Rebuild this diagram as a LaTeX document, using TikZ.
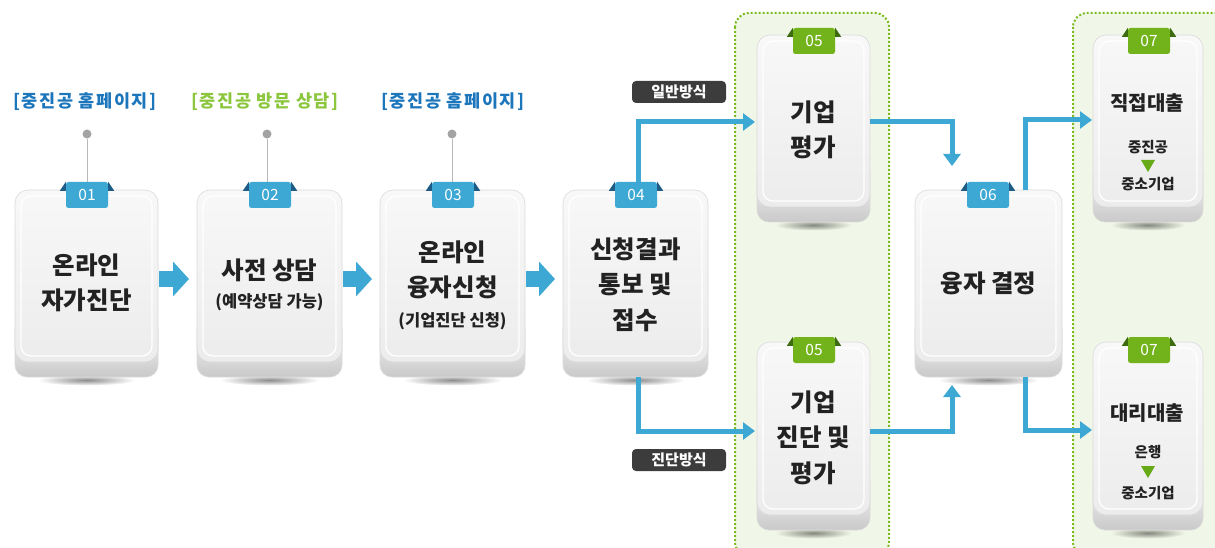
\documentclass[tikz,border=0pt]{standalone}
\usepackage{fontspec}
\setmainfont{Noto Sans CJK KR}
\newfontfamily\krspaced{Noto Sans CJK KR}[LetterSpace=9]
\usetikzlibrary{arrows.meta,fadings}
\definecolor{cblue}{HTML}{3EA8D5}
\definecolor{cbluedark}{HTML}{1E5C86}
\definecolor{cgreen}{HTML}{72B31B}
\definecolor{cgreendark}{HTML}{3D6C10}
\definecolor{zonefill}{HTML}{F1F7E8}
\definecolor{zoneline}{HTML}{7CBB1E}
\definecolor{lblblue}{HTML}{1C76BC}
\definecolor{lblgreen}{HTML}{8CC63F}
\definecolor{txt}{HTML}{222222}
\definecolor{tagfill}{HTML}{3C3C3C}
\definecolor{dotgray}{HTML}{A3A3A3}
\definecolor{linegray}{HTML}{B8B8B8}
\definecolor{cardfaceT}{HTML}{F8F8F8}
\definecolor{cardfaceB}{HTML}{ECECEC}
\definecolor{cardbaseT}{HTML}{FFFFFF}
\definecolor{cardbaseB}{HTML}{C9C9C9}
\definecolor{cardedge}{HTML}{DADADA}
\definecolor{trigreen}{HTML}{66AA18}
\tikzfading[name=softshadow, inner color=transparent!0, outer color=transparent!100]

\newcommand\cardbox[5]{%
  \fill[black,opacity=.45,path fading=softshadow] ({(#2+#4)/2},{#5+3}) ellipse [x radius={(#4-#2)*0.34}, y radius=5.5];
  \shade[top color=cardbaseT,bottom color=cardbaseB,draw=cardedge,line width=.6pt,rounded corners=12pt] (#2,{#5-60}) rectangle (#4,#5);
  \shade[top color=cardfaceT,bottom color=cardfaceB,draw=cardedge,line width=.6pt,rounded corners=13pt] (#2,#3) rectangle (#4,{#5-15});
  \draw[white,line width=1.3pt,rounded corners=10pt] ({#2+6},{#3+6}) rectangle ({#4-6},{#5-21});
  \node[cardnode,anchor=north west,minimum width={(#4-#2)*1pt},minimum height={(#5-#3)*1pt}] (#1) at (#2,#3) {};
}
\newcommand\ribbonbadge[5]{% name, x, y, text, colour prefix
  \node[#5badge] (#1) at (#2,#3) {#4};
  \fill[#5dark] (#1.north west) -- ++(-6,9) -- ++(6,0) -- cycle;
  \fill[#5dark] (#1.north east) -- ++(6,9) -- ++(-6,0) -- cycle;
}

\begin{document}
\begin{tikzpicture}[x=1pt,y=-1pt,
  cardnode/.style={inner sep=0pt,outer sep=0pt,draw=none},
  badge/.style={inner sep=0pt,minimum width=42pt,minimum height=26pt,text=white,
    font=\fontsize{15.5}{15.5}\selectfont,rounded corners=2.5pt},
  cbluebadge/.style={badge,fill=cblue},
  cgreenbadge/.style={badge,fill=cgreen},
  flow/.style={draw=cblue,line width=5pt,-{Triangle[length=12pt,width=17pt]}},
  bigflow/.style={draw=cblue,line width=16pt,-{Triangle[length=16pt,width=34pt]}},
  mainlabel/.style={text=txt,align=center,inner sep=0pt,font=\fontsize{24.5}{35.5}\selectfont\bfseries},
  sublabel/.style={text=txt,inner sep=0pt,font=\fontsize{16.5}{17}\selectfont\bfseries},
  midlabel/.style={text=txt,inner sep=0pt,font=\fontsize{20}{20}\selectfont\bfseries},
  smalllabel/.style={text=txt,inner sep=0pt,font=\fontsize{14.5}{15}\selectfont\bfseries},
  tag/.style={fill=tagfill,text=white,rounded corners=4pt,minimum width=94pt,minimum height=22pt,
    inner sep=0pt,font=\fontsize{15}{15}\selectfont\bfseries},
  toplabel/.style={inner sep=0pt,font=\krspaced\fontsize{17.5}{17.5}\selectfont\bfseries},
  pin/.style={circle,fill=dotgray,minimum size=9pt,inner sep=0pt},
  pinline/.style={draw=linegray,line width=1pt},
  zone/.style={fill=zonefill,draw=zoneline,line width=2pt,dash pattern=on 2pt off 2pt,rounded corners=14pt},
  tri/.style={fill=trigreen}
]
\useasboundingbox (0,0) rectangle (1215,548);

% green zones
\draw[zone] (735,13) rectangle (889,556);
\draw[zone] (1073,13) rectangle (1232,556);

% cards
\cardbox{b01}{15}{190}{158}{377}
\cardbox{b02}{197}{190}{342}{377}
\cardbox{b03}{380}{190}{525}{377}
\cardbox{b04}{563}{190}{708}{377}
\cardbox{b05}{757}{35}{870}{222}
\cardbox{b05b}{757}{342}{870}{530}
\cardbox{b06}{915}{190}{1062}{377}
\cardbox{b07}{1093}{35}{1203}{222}
\cardbox{b07b}{1093}{342}{1203}{530}

% top labels with pins
\node[toplabel,text=lblblue] (l01) at (85,102) {[중진공 홈페이지]};
\node[toplabel,text=lblgreen] (l02) at (265,102) {[중진공 방문 상담]};
\node[toplabel,text=lblblue] (l03) at (453,102) {[중진공 홈페이지]};
\node[pin] (p01) at (87,134) {};
\node[pin] (p02) at (267,134) {};
\node[pin] (p03) at (452,134) {};

% badges
\ribbonbadge{n01}{87}{195}{01}{cblue}
\ribbonbadge{n02}{270}{195}{02}{cblue}
\ribbonbadge{n03}{453}{195}{03}{cblue}
\ribbonbadge{n04}{636}{195}{04}{cblue}
\ribbonbadge{n05}{814}{41}{05}{cgreen}
\ribbonbadge{n05b}{814}{350}{05}{cgreen}
\ribbonbadge{n06}{988}{195}{06}{cblue}
\ribbonbadge{n07}{1149}{41}{07}{cgreen}
\ribbonbadge{n07b}{1149}{350}{07}{cgreen}

\draw[pinline] (p01) -- (p01 |- n01.north);
\draw[pinline] (p02) -- (p02 |- n02.north);
\draw[pinline] (p03) -- (p03 |- n03.north);

% card texts
\node[mainlabel] (t01) at (86.5,283) {온라인\\자가진단};
\node[mainlabel] (t02a) at (269.5,270) {사전 상담};
\node[sublabel] (t02b) at (269.5,302) {(예약상담 가능)};
\node[mainlabel] (t03a) at (452.5,270) {온라인\\융자신청};
\node[sublabel] (t03b) at (452.5,321) {(기업진단 신청)};
\node[mainlabel] (t04) at (635.5,284.5) {신청결과\\통보 및\\접수};
\node[mainlabel] (t05) at (813.5,130) {기업\\평가};
\node[mainlabel] (t05b) at (813.5,437.5) {기업\\진단 및\\평가};
\node[mainlabel] (t06) at (988.5,283) {융자 결정};
\node[midlabel] (t07a) at (1147,103) {직접대출};
\node[smalllabel] (t07b) at (1148,147) {중진공};
\node[smalllabel] (t07c) at (1148,184) {중소기업};
\node[midlabel] (t07d) at (1147,413) {대리대출};
\node[smalllabel] (t07e) at (1148,452) {은행};
\node[smalllabel] (t07f) at (1148,493) {중소기업};
\fill[tri] (1141,160) -- (1155,160) -- (1148,172) -- cycle;
\fill[tri] (1141,466) -- (1155,466) -- (1148,478) -- cycle;

% method tags
\node[tag] (g1) at (679,92) {일반방식};
\node[tag] (g2) at (679,460) {진단방식};

% big arrows between main cards
\draw[bigflow] ([shift={(1pt,4.5pt)}]b01.east) -- ([shift={(-8pt,4.5pt)}]b02.west);
\draw[bigflow] ([shift={(1pt,4.5pt)}]b02.east) -- ([shift={(-8pt,4.5pt)}]b03.west);
\draw[bigflow] ([shift={(1pt,4.5pt)}]b03.east) -- ([shift={(-8pt,4.5pt)}]b04.west);

% flow connectors
\draw[flow] ([xshift=2pt]n04.north) |- ([shift={(-2pt,6.5pt)}]b05.west);
\draw[flow] ([xshift=2.5pt]b04.south) |- ([shift={(-2pt,5pt)}]b05b.west);
\draw[flow] ([yshift=6.5pt]b05.east) -| ([shift={(-36.5pt,24pt)}]b06.north);
\draw[flow] ([yshift=5pt]b05b.east) -| ([shift={(-36.5pt,-8pt)}]b06.south);
\draw[flow] ([xshift=36.5pt]b06.north) |- ([shift={(-1pt,8.5pt)}]b07.west);
\draw[flow] ([xshift=36.5pt]b06.south) |- ([shift={(-1pt,6pt)}]b07b.west);
\end{tikzpicture}
\end{document}
